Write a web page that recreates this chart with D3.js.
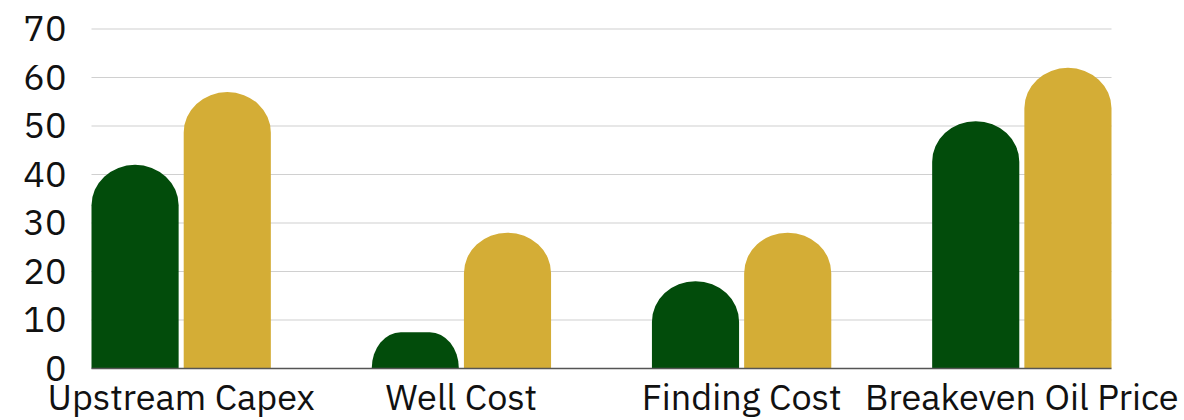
<!DOCTYPE html>
<html>
<head>
<meta charset="utf-8">
<script src="https://cdn.jsdelivr.net/npm/d3@7"></script>
<style>
  html, body { margin: 0; padding: 0; background: #ffffff; }
  svg { display: block; }
</style>
</head>
<body>
<svg id="chart" width="1184" height="420"></svg>
<script>
// Categories and the two series compared in each
const categories = ["Upstream Capex", "Well Cost", "Finding Cost", "Breakeven Oil Price"];
const seriesNames = ["seriesA", "seriesB"];
const seriesA = [42, 7.5, 18, 51];
const seriesB = [57, 28, 28, 62];
const yTicks = [0, 10, 20, 30, 40, 50, 60, 70];

const colors = { seriesA: "#024c0b", seriesB: "#d4ad36" };

const width = 1184, height = 420;
const margin = { top: 29, right: 72.5, bottom: 51.5, left: 91.5 };
const innerW = width - margin.left - margin.right;
const innerH = height - margin.top - margin.bottom;

const svg = d3.select("#chart");
const g = svg.append("g").attr("transform", `translate(${margin.left},${margin.top})`);

const x0 = d3.scaleBand().domain(categories).range([0, innerW]).paddingInner(0.36).paddingOuter(0);
const x1 = d3.scaleBand().domain(seriesNames).range([0, x0.bandwidth()]).paddingInner(0.055);
const y = d3.scaleLinear().domain([0, 70]).range([innerH, 0]);

// horizontal gridlines
g.append("g")
  .selectAll("line")
  .data(yTicks.filter(t => t > 0))
  .join("line")
  .attr("x1", 0).attr("x2", innerW)
  .attr("y1", d => y(d)).attr("y2", d => y(d))
  .attr("stroke", "#d0d0d0").attr("stroke-width", 1.2);

// y axis labels
const yAxis = g.append("g")
  .call(d3.axisLeft(y).tickValues(yTicks).tickSize(0).tickPadding(25).tickFormat(d3.format("d")));
yAxis.select(".domain").remove();
yAxis.selectAll("text")
  .attr("font-family", "'IBM Plex Sans', 'Open Sans', sans-serif")
  .attr("font-size", 36)
  .attr("fill", "#111");

const rows = categories.map((c, i) => ({ cat: c, seriesA: seriesA[i], seriesB: seriesB[i] }));

// bar with a rounded top (elliptical corners, straight sides)
function barPath(x, w, yTop, yBase) {
  const h = yBase - yTop;
  const rx = Math.min(w / 2, h * 0.8);
  const ry = Math.min(w / 2 * 0.93, h);
  return `M${x},${yBase}` +
    `L${x},${yTop + ry}` +
    `A${rx},${ry} 0 0 1 ${x + rx},${yTop}` +
    `L${x + w - rx},${yTop}` +
    `A${rx},${ry} 0 0 1 ${x + w},${yTop + ry}` +
    `L${x + w},${yBase}Z`;
}

const groups = g.append("g")
  .selectAll("g")
  .data(rows)
  .join("g")
  .attr("transform", d => `translate(${x0(d.cat)},0)`);

groups.selectAll("path")
  .data(d => seriesNames.map(k => ({ key: k, value: d[k] })))
  .join("path")
  .attr("d", d => barPath(x1(d.key), x1.bandwidth(), y(d.value), y(0)))
  .attr("fill", d => colors[d.key]);

// baseline
g.append("line")
  .attr("x1", 0).attr("x2", innerW)
  .attr("y1", y(0)).attr("y2", y(0))
  .attr("stroke", "#555").attr("stroke-width", 1.5);

// category labels
const xAxis = g.append("g")
  .attr("transform", `translate(0,${innerH})`)
  .call(d3.axisBottom(x0).tickSize(0).tickPadding(16));
xAxis.select(".domain").remove();
xAxis.selectAll("text")
  .attr("font-family", "'IBM Plex Sans', 'Open Sans', sans-serif")
  .attr("font-size", 36)
  .attr("fill", "#111");
</script>
</body>
</html>
